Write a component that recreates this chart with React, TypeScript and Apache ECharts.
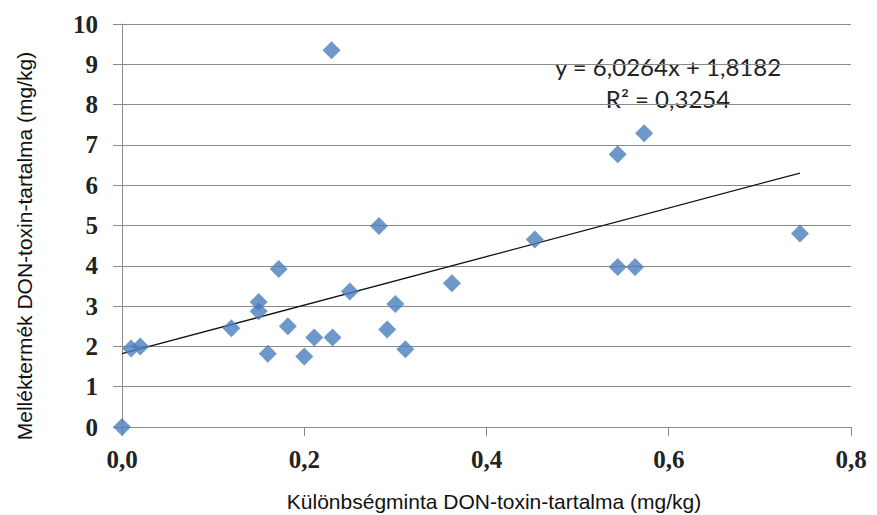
import React, { useEffect, useRef } from "react";
import * as echarts from "echarts";

const xValues = [0, 0.01, 0.02, 0.12, 0.15, 0.15, 0.16, 0.172, 0.182, 0.2, 0.211, 0.231, 0.23, 0.25, 0.282, 0.291, 0.3, 0.311, 0.362, 0.453, 0.544, 0.544, 0.563, 0.573, 0.744];
const yValues = [0, 1.95, 2.0, 2.45, 3.1, 2.87, 1.82, 3.92, 2.5, 1.75, 2.22, 2.22, 9.35, 3.36, 4.99, 2.42, 3.05, 1.93, 3.57, 4.65, 3.97, 6.77, 3.97, 7.29, 4.8];
const xTicks = [0, 0.2, 0.4, 0.6, 0.8];
const yTicks = [0, 1, 2, 3, 4, 5, 6, 7, 8, 9, 10];
const slope = 6.0264;
const intercept = 1.8182;
const equationText = "y = 6,0264x + 1,8182";
const r2Text = "R² = 0,3254";
const xTitle = "Különbségminta DON-toxin-tartalma (mg/kg)";
const yTitle = "Melléktermék DON-toxin-tartalma (mg/kg)";

export default function App() {
  const ref = useRef<HTMLDivElement>(null);
  useEffect(() => {
    if (!ref.current) return;
    const chart = echarts.init(ref.current, null, { renderer: "svg" });
    const points = xValues.map((x, i) => [x, yValues[i]]);
    const xMin = Math.min(...xValues);
    const xMax = Math.max(...xValues);
    const trend = [
      [xMin, slope * xMin + intercept],
      [xMax, slope * xMax + intercept],
    ];
    const grid = "#8a8a8a";
    chart.setOption({
      animation: false,
      backgroundColor: "#ffffff",
      grid: { left: 122, right: 26, top: 24, bottom: 88, containLabel: false },
      xAxis: {
        type: "value",
        min: xTicks[0],
        max: xTicks[xTicks.length - 1],
        interval: 0.2,
        axisLine: { show: true, lineStyle: { color: grid, width: 1 } },
        axisTick: { show: true, length: 9, lineStyle: { color: grid } },
        splitLine: { show: false },
        axisLabel: {
          margin: 20,
          fontFamily: "Liberation Serif",
          fontWeight: "bold",
          fontSize: 25,
          color: "#222",
          formatter: (v: number) => v.toFixed(1).replace(".", ","),
        },
      },
      yAxis: {
        type: "value",
        min: yTicks[0],
        max: yTicks[yTicks.length - 1],
        interval: 1,
        axisLine: { show: true, lineStyle: { color: grid, width: 1 } },
        axisTick: { show: true, length: 9, lineStyle: { color: grid } },
        splitLine: { show: true, lineStyle: { color: grid, width: 1 } },
        axisLabel: {
          margin: 24,
          fontFamily: "Liberation Serif",
          fontWeight: "bold",
          fontSize: 25,
          color: "#222",
        },
      },
      series: [
        {
          type: "line",
          data: trend,
          symbol: "none",
          lineStyle: { color: "#111", width: 1.3 },
          z: 3,
        },
        {
          type: "scatter",
          data: points,
          symbol: "diamond",
          symbolSize: 18,
          itemStyle: { color: "#4a7ebb" },
          z: 4,
        },
      ],
      graphic: [
        {
          type: "text",
          x: 668,
          y: 66,
          style: {
            text: equationText,
            font: "24px Lato",
            fill: "#222",
            align: "center",
            verticalAlign: "middle",
          },
        },
        {
          type: "text",
          x: 668,
          y: 98,
          style: {
            text: r2Text,
            font: "24px Lato",
            fill: "#222",
            align: "center",
            verticalAlign: "middle",
          },
        },
        {
          type: "text",
          x: 494,
          y: 501,
          style: {
            text: xTitle,
            font: "21px 'Liberation Sans'",
            fill: "#111",
            align: "center",
            verticalAlign: "middle",
          },
        },
        {
          type: "text",
          x: 24,
          y: 246,
          rotation: Math.PI / 2,
          style: {
            text: yTitle,
            font: "21px 'Liberation Sans'",
            fill: "#111",
            align: "center",
            verticalAlign: "middle",
          },
        },
      ],
    });
    return () => chart.dispose();
  }, []);
  return <div ref={ref} style={{ width: 877, height: 515, position: "absolute", left: 0, top: 0 }} />;
}
